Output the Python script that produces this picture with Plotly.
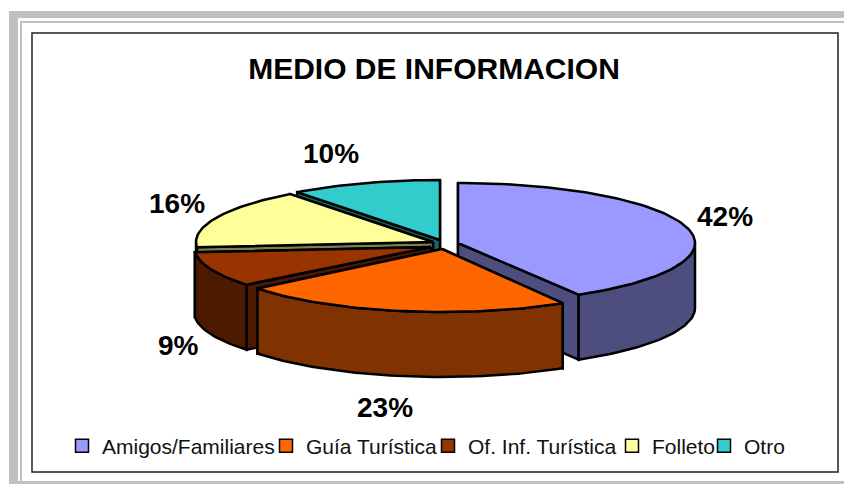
import math
import plotly.graph_objects as go

# Data
categories = ["Amigos/Familiares", "Guía Turística", "Of. Inf. Turística", "Folleto", "Otro"]
shares = [41.5, 22.7, 9.4, 16.1, 10.3]

# Style
top_colors = ["#9999FF", "#FF6600", "#993300", "#FFFF99", "#33CCCC"]
wall_colors = ["#4D4D80", "#803300", "#4D1A00", "#80804D", "#1A6666"]
apex_px = [(458, 243), (442, 249), (431, 247), (433, 242), (440, 240)]
radius_y_px = [60, 63, 60, 60, 60]
label_px = [(725, 216), (385, 407), (178, 345), (177, 203), (331, 153)]
legend_left_px = [62, 266, 428, 612, 704]
RX, DEPTH = 237, 65
DRAW_ORDER = [4, 3, 2, 0, 1]

fig = go.Figure()


def rim(ax, ay, ry, a0, a1, dy=0):
    n = max(2, int(abs(a1 - a0) / 1.5) + 1)
    pts = []
    for i in range(n + 1):
        t = math.radians(a0 + (a1 - a0) * i / n)
        pts.append((ax + RX * math.sin(t), ay - ry * math.cos(t) + dy))
    return pts


def poly(pts, color, width=2.5):
    fig.add_trace(go.Scatter(
        x=[p[0] for p in pts] + [pts[0][0]],
        y=[p[1] for p in pts] + [pts[0][1]],
        mode="lines", fill="toself", fillcolor=color,
        line=dict(color="black", width=width),
        hoverinfo="skip", showlegend=False))


angles = []
acc = 0
total = sum(shares)
for s in shares:
    angles.append((acc, acc + s / total * 360))
    acc += s / total * 360

for i in DRAW_ORDER:
    a0, a1 = angles[i]
    ax, ay = apex_px[i]
    ry = radius_y_px[i]
    top = rim(ax, ay, ry, a0, a1)
    wall = wall_colors[i]
    # radial cut faces, the one further back first
    for end in sorted((top[0], top[-1]), key=lambda p: p[1]):
        poly([(ax, ay), end, (end[0], end[1] + DEPTH), (ax, ay + DEPTH)], wall)
    # curved outer wall (front half only)
    f0, f1 = max(a0, 90), min(a1, 270)
    if f1 > f0:
        upper = rim(ax, ay, ry, f0, f1)
        lower = rim(ax, ay, ry, f1, f0, DEPTH)
        poly(upper + lower, wall)
    # top face
    poly([(ax, ay)] + top, top_colors[i])

# Legend entries: one native legend per entry so each sits at its own position
legend_layout = {}
for k, (name, color, lx) in enumerate(zip(categories, top_colors, legend_left_px)):
    key = "legend" if k == 0 else f"legend{k + 1}"
    fig.add_trace(go.Scatter(
        x=[None], y=[None], mode="markers", name=name, legend=key, showlegend=True,
        marker=dict(symbol="square", size=13, color=color,
                    line=dict(color="black", width=1.5))))
    legend_layout[key] = dict(
        x=lx / 844, xanchor="left", y=1 - 446 / 484, yanchor="middle",
        font=dict(family="Liberation Sans, Arial", size=21, color="#111111"),
        bgcolor="rgba(0,0,0,0)", itemwidth=30, itemclick=False, itemdoubleclick=False)

shapes = [
    dict(type="rect", x0=9, x1=844, y0=11, y1=18, fillcolor="#C0C0C0", line_width=0, layer="below"),
    dict(type="rect", x0=9, x1=18, y0=11, y1=484, fillcolor="#C0C0C0", line_width=0, layer="below"),
    dict(type="rect", x0=20, x1=844, y0=21, y1=23, fillcolor="#C0C0C0", line_width=0, layer="below"),
    dict(type="rect", x0=20, x1=22, y0=21, y1=484, fillcolor="#C0C0C0", line_width=0, layer="below"),
    dict(type="rect", x0=18, x1=844, y0=481, y1=484, fillcolor="#C0C0C0", line_width=0, layer="below"),
    dict(type="rect", x0=32, x1=838, y0=33, y1=472, fillcolor="white",
         line=dict(color="#222222", width=1.5), layer="below"),
]

annotations = [
    dict(x=lx, y=ly, text=f"{round(s)}%", showarrow=False, xref="x", yref="y",
         font=dict(family="Liberation Sans, Arial", size=28, color="black", weight="bold"))
    for s, (lx, ly) in zip(shares, label_px)
]

fig.update_layout(
    width=844, height=484, margin=dict(l=0, r=0, t=0, b=0),
    paper_bgcolor="white", plot_bgcolor="white", autosize=False,
    xaxis=dict(range=[0, 844], visible=False, fixedrange=True),
    yaxis=dict(range=[484, 0], visible=False, fixedrange=True),
    shapes=shapes, annotations=annotations,
    title=dict(text="<b>MEDIO DE INFORMACION</b>", x=434 / 844, xanchor="center",
               y=1 - 68 / 484, yanchor="middle",
               font=dict(family="Liberation Sans, Arial", size=30, color="black")),
    **legend_layout,
)
fig.write_html("out.html", post_script="document.body.style.margin='0';",
               config={"displayModeBar": False})
